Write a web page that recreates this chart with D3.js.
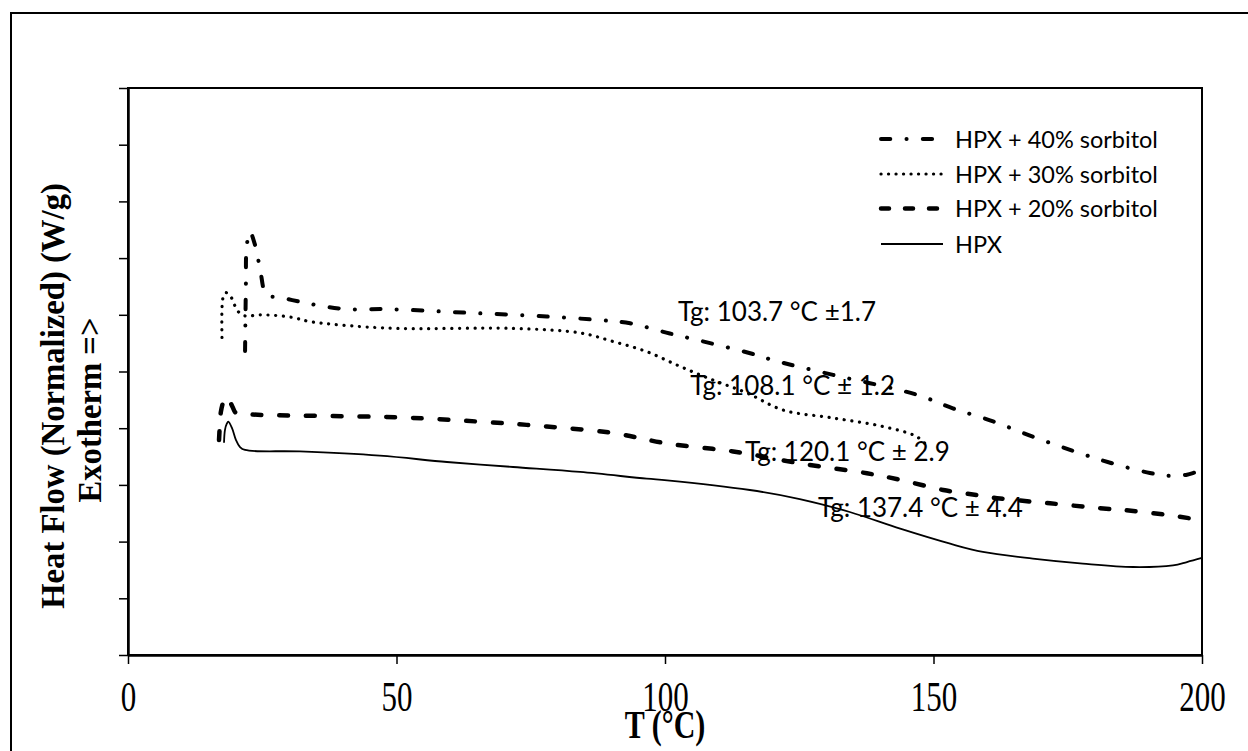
<!DOCTYPE html>
<html><head><meta charset="utf-8">
<script src="https://cdn.jsdelivr.net/npm/d3@7"></script>
<style>body{margin:0;background:#fff}svg{display:block}</style>
</head><body><svg id="c" width="1248" height="751"></svg>
<script>
// ---- data ----
const xTicks = [0, 50, 100, 150, 200];
const yTicks = [0, 1, 2, 3, 4, 5, 6, 7, 8, 9, 10];
const seriesNames = ["HPX + 40% sorbitol", "HPX + 30% sorbitol", "HPX + 20% sorbitol", "HPX"];

const s40T = [21.8,21.95,22.1,22.7,23.6,24.3,24.7,25.8,28.1,32.0,35.8,40.8,48.4,62.4,78.0,87.3,93.5,100.9,108.4,117.1,120.1,131.3,146.9,153.6,161.1,168.5,176.0,182.9,190.3,194.0,197.2,199.1,199.8];
const s40V = [5.36,6.5,7.2,7.47,7.25,6.95,6.75,6.35,6.31,6.23,6.16,6.10,6.10,6.04,5.97,5.91,5.85,5.67,5.50,5.29,5.20,4.94,4.59,4.35,4.12,3.85,3.60,3.39,3.21,3.16,3.18,3.23,3.23];

const s30T = [17.5,17.5,17.7,18.25,19.2,20.4,21.8,24.6,30.2,33.9,39.5,50.1,71.7,84.2,90.3,96.6,102.8,108.9,115.3,122.0,131.3,140.6,146.9,149.0];
const s30V = [5.60,6.10,6.30,6.39,6.31,6.07,5.98,6.00,5.96,5.88,5.82,5.76,5.76,5.68,5.53,5.35,5.09,4.85,4.62,4.32,4.18,4.03,3.85,3.67];

const s20T = [16.95,17.1,17.3,17.8,18.25,18.9,19.5,20.1,22.35,50.6,65.5,78.0,90.3,100.4,112.7,125.1,137.6,143.8,151.8,158.1,162.4,171.7,181.0,187.2,193.5,197.8];
const s20V = [3.79,4.05,4.29,4.48,4.55,4.48,4.37,4.27,4.245,4.19,4.115,4.03,3.915,3.73,3.59,3.38,3.205,3.09,2.91,2.82,2.76,2.675,2.59,2.54,2.47,2.41];

const hpxT = [17.88,18.06,18.4,18.68,19.37,20.11,20.86,21.79,32.0,46.9,59.4,71.7,84.2,96.6,100.4,115.8,125.1,134.4,143.8,153.1,159.2,168.5,177.8,187.2,194.6,197.2,200];
const hpxV = [3.744,3.97,4.08,4.115,4.0,3.79,3.668,3.616,3.59,3.515,3.404,3.316,3.228,3.110,3.081,2.910,2.751,2.522,2.228,1.963,1.817,1.699,1.611,1.552,1.582,1.640,1.711];

const tgLabels = ["Tg: 103.7 °C ±1.7", "Tg: 108.1 °C ± 1.2", "Tg: 120.1 °C ± 2.9", "Tg: 137.4 °C ± 4.4"];
const tgT = [102.4, 104.7, 114.9, 128.5];
const tgV = [5.89, 4.586, 3.422, 2.434];

// ---- layout ----
const svg = d3.select("#c");
const L = 128, R = 1202, T = 88, B = 655;
const x = d3.scaleLinear().domain([0, 200]).range([L, R]);
const y = d3.scaleLinear().domain([0, 10]).range([B, T]);

// outer border
svg.append("rect").attr("x", 11).attr("y", 13).attr("width", 1260).attr("height", 770)
  .attr("fill", "none").attr("stroke", "#000").attr("stroke-width", 2);

// plot frame
svg.append("rect").attr("x", L).attr("y", T).attr("width", R - L).attr("height", B - T)
  .attr("fill", "none").attr("stroke", "#000").attr("stroke-width", 2);

// axes
const ya = svg.append("g").attr("transform", `translate(${L},0)`)
  .call(d3.axisLeft(y).tickValues(yTicks).tickSize(9).tickSizeOuter(0).tickFormat(""));
ya.select(".domain").attr("stroke-width", 2.5);
ya.selectAll(".tick line").attr("stroke-width", 1.5);

const xa = svg.append("g").attr("transform", `translate(0,${B})`)
  .call(d3.axisBottom(x).tickValues(xTicks).tickSize(9).tickSizeOuter(0));
xa.select(".domain").attr("stroke-width", 2.5);
xa.selectAll(".tick line").attr("stroke-width", 1.5);
xa.selectAll(".tick text")
  .attr("y", 0).attr("dy", 0)
  .attr("transform", "translate(0,56) scale(1,1.39)")
  .attr("font-family", "'Liberation Serif','Times New Roman',serif")
  .attr("font-size", 31).attr("fill", "#000");

// axis titles
svg.append("text").attr("transform", "translate(665,738) scale(1,1.3)")
  .attr("text-anchor", "middle").attr("font-family", "'Liberation Serif',serif")
  .attr("font-weight", "bold").attr("font-size", 30).text("T (°C)");

svg.append("text").attr("transform", "translate(64,396) rotate(-90)")
  .attr("text-anchor", "middle").attr("font-family", "'Liberation Serif',serif")
  .attr("font-weight", "bold").attr("font-size", 32.7).text("Heat Flow (Normalized) (W/g)");
svg.append("text").attr("transform", "translate(101,410) rotate(-90)")
  .attr("text-anchor", "middle").attr("font-family", "'Liberation Serif',serif")
  .attr("font-weight", "bold").attr("font-size", 32.7).text("Exotherm =>");

// series
const styles = [
  {w: 4, dash: "9.3,16.2,0.1,16.2", cap: "round"},
  {w: 3.2, dash: "0.1,7.6", cap: "round"},
  {w: 4.5, dash: "8.8,17.9", cap: "round"},
  {w: 1.8, dash: null, cap: "butt"}
];
const series = [
  d3.zip(s40T, s40V), d3.zip(s30T, s30V), d3.zip(s20T, s20V), d3.zip(hpxT, hpxV)
];
const line = d3.line().x(d => x(d[0])).y(d => y(d[1])).curve(d3.curveCatmullRom.alpha(0.5));
series.forEach((s, i) => {
  const st = styles[i];
  svg.append("path").datum(s).attr("d", line)
    .attr("fill", "none").attr("stroke", "#000")
    .attr("stroke-width", st.w).attr("stroke-linecap", st.cap).attr("stroke-linejoin", "round")
    .attr("stroke-dasharray", st.dash);
});

// annotations
tgLabels.forEach((t, i) => {
  svg.append("text").attr("x", x(tgT[i])).attr("y", y(tgV[i]))
    .attr("font-family", "Lato, 'Liberation Sans', sans-serif").attr("font-size", 26)
    .attr("fill", "#000").text(t);
});

// legend
const legRows = [139, 174, 208.5, 244];
const legDash = ["9.3,16.2,0.1,16.2", "0.1,7.4", "8,16", null];
seriesNames.forEach((n, i) => {
  const st = styles[i];
  svg.append("line").attr("x1", 881).attr("x2", 943).attr("y1", legRows[i]).attr("y2", legRows[i])
    .attr("stroke", "#000").attr("stroke-width", st.w).attr("stroke-linecap", st.cap)
    .attr("stroke-dasharray", legDash[i]);
  svg.append("text").attr("x", 955).attr("y", legRows[i] + 8.5)
    .attr("font-family", "Lato, 'Liberation Sans', sans-serif").attr("font-size", 23.5)
    .attr("fill", "#000").text(n);
});
</script>
</body></html>
